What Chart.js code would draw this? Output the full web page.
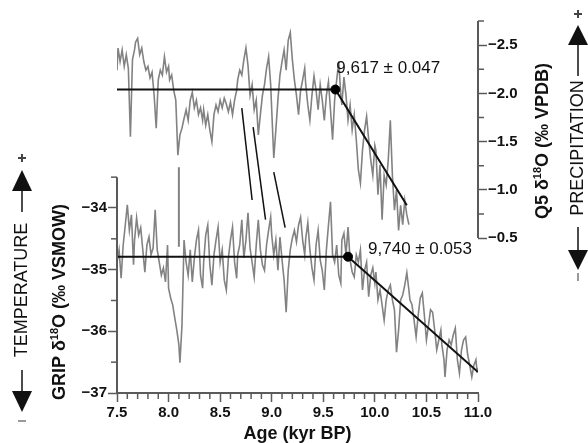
<!DOCTYPE html>
<html>
<head>
<meta charset="utf-8">
<script src="https://cdn.jsdelivr.net/npm/chart.js@4.4.0/dist/chart.umd.min.js"></script>
<style>
  html, body { margin: 0; padding: 0; background: #fff; }
  canvas { display: block; }
</style>
</head>
<body>
<canvas id="chart" width="588" height="443"></canvas>
<script>
// Q5 stalagmite record (right axis, reversed)
const q5Age = [7.50,7.51,7.53,7.55,7.57,7.59,7.61,7.63,7.65,7.67,
  7.68,7.70,7.72,7.74,7.76,7.78,7.80,7.82,7.84,7.86,
  7.88,7.90,7.92,7.94,7.96,7.98,8.00,8.01,8.03,8.05,
  8.07,8.09,8.11,8.13,8.15,8.17,8.19,8.21,8.23,8.25,
  8.27,8.29,8.31,8.33,8.34,8.36,8.38,8.40,8.42,8.44,
  8.46,8.48,8.50,8.52,8.54,8.56,8.58,8.60,8.62,8.64,
  8.66,8.67,8.69,8.71,8.73,8.75,8.77,8.79,8.81,8.83,
  8.85,8.87,8.89,8.91,8.93,8.95,8.97,8.99,9.00,9.02,
  9.04,9.06,9.08,9.10,9.12,9.14,9.16,9.18,9.20,9.22,
  9.24,9.26,9.28,9.30,9.32,9.33,9.35,9.37,9.39,9.41,
  9.43,9.45,9.47,9.49,9.51,9.53,9.55,9.57,9.59,9.61,
  9.63,9.65,9.67,9.68,9.70,9.72,9.74,9.76,9.78,9.80,
  9.82,9.84,9.86,9.88,9.90,9.92,9.94,9.96,9.98,10.00,
  10.01,10.03,10.05,10.07,10.09,10.11,10.13,10.15,10.17,10.19,
  10.21,10.23,10.25,10.27,10.29,10.31,10.33];
const q5D18O = [-2.24,-2.47,-2.33,-2.45,-2.28,-2.40,-2.26,-1.55,-2.35,-2.45,
  -2.53,-2.57,-2.40,-2.47,-2.33,-2.24,-2.28,-2.16,-2.22,-1.98,
  -1.64,-2.14,-2.24,-2.19,-2.38,-2.22,-2.28,-2.14,-2.19,-2.03,
  -1.93,-1.36,-1.57,-1.64,-1.74,-1.83,-1.72,-1.93,-2.01,-1.85,
  -1.93,-1.78,-1.85,-1.72,-1.83,-1.67,-1.78,-1.62,-1.50,-1.78,
  -1.88,-1.81,-1.93,-1.85,-1.95,-1.89,-1.81,-1.91,-1.78,-1.93,
  -2.03,-2.14,-2.24,-2.19,-2.35,-2.47,-2.29,-1.98,-2.09,-1.83,
  -1.93,-1.57,-1.78,-1.98,-2.09,-2.26,-2.38,-2.09,-1.83,-1.33,
  -1.62,-1.93,-2.19,-2.33,-2.45,-2.24,-2.55,-2.63,-2.35,-2.14,
  -1.98,-1.78,-2.03,-2.14,-2.26,-2.09,-1.88,-1.72,-1.98,-2.18,
  -2.03,-1.83,-2.09,-1.93,-1.72,-1.98,-2.12,-1.83,-1.52,-1.93,
  -2.14,-2.33,-1.98,-1.88,-2.17,-1.98,-1.72,-1.88,-1.62,-1.78,
  -1.52,-1.21,-1.07,-1.41,-1.62,-1.76,-1.52,-1.31,-1.15,-1.46,
  -1.41,-0.95,-1.26,-0.69,-1.15,-1.05,-1.31,-1.72,-1.15,-0.79,
  -1.00,-0.58,-0.84,-0.64,-0.89,-0.74,-0.64];

// GRIP ice core record (left axis)
const gripAge = [7.50,7.52,7.54,7.56,7.58,7.60,7.62,7.64,7.66,7.67,
  7.69,7.71,7.73,7.75,7.77,7.79,7.81,7.83,7.85,7.87,
  7.89,7.91,7.93,7.95,7.97,7.99,8.00,8.02,8.04,8.06,
  8.08,8.10,8.11,
  8.13,8.15,8.17,8.19,8.21,8.23,8.25,8.27,8.29,8.31,
  8.33,8.34,8.36,8.38,8.40,8.42,8.44,8.46,8.48,8.50,
  8.52,8.54,8.56,8.58,8.60,8.62,8.64,8.66,8.67,8.69,
  8.71,8.73,8.75,8.77,8.79,8.81,8.83,8.85,8.87,8.89,
  8.91,8.93,8.95,8.97,8.99,9.00,9.02,9.04,9.06,9.08,
  9.10,9.12,9.14,9.16,9.18,9.20,9.22,9.24,9.26,9.28,
  9.30,9.32,9.33,9.35,9.37,9.39,9.41,9.43,9.45,9.47,
  9.49,9.51,9.53,9.55,9.57,9.59,9.61,9.63,9.65,9.67,
  9.68,9.70,9.72,9.74,9.76,9.78,9.80,9.82,9.84,9.86,
  9.88,9.90,9.92,9.94,9.96,9.98,10.00,10.01,10.03,10.05,
  10.07,10.09,10.11,10.13,10.15,10.17,10.19,10.21,10.23,10.25,
  10.27,10.29,10.31,10.33,10.34,10.36,10.38,10.40,10.42,10.44,
  10.46,10.48,10.50,10.52,10.54,10.56,10.58,10.60,10.62,10.64,
  10.65,10.67,10.68,
  10.70,10.72,10.74,10.76,10.78,10.80,10.82,10.84,10.86,10.88,
  10.90,10.92,10.94,10.96,10.98,10.99,11.00];
const gripD18O = [-34.88,-34.68,-35.14,-34.60,-34.28,-33.95,-34.36,-34.11,-34.92,-34.52,
  -34.16,-34.44,-34.32,-34.68,-35.04,-34.60,-34.47,-34.76,-34.65,-34.03,
  -34.68,-34.88,-35.09,-34.97,-35.20,-34.60,-35.30,-35.46,-35.57,-35.78,
  -35.98,-36.22,-36.51,
  -35.90,-34.52,-34.88,-35.09,-34.68,-35.20,-34.81,-34.52,-34.36,-35.09,
  -35.30,-34.88,-34.44,-34.28,-34.92,-35.25,-34.76,-34.52,-34.31,-34.88,
  -34.68,-35.17,-35.33,-34.81,-34.52,-34.31,-34.88,-35.14,-34.76,-34.60,
  -34.19,-34.81,-34.52,-34.08,-34.65,-34.88,-35.12,-34.60,-34.19,-34.68,
  -34.92,-35.01,-34.60,-34.36,-34.15,-34.44,-34.76,-34.52,-35.01,-34.47,
  -34.84,-35.17,-35.69,-35.01,-34.68,-34.49,-34.36,-34.55,-34.28,-34.15,
  -34.52,-34.76,-34.49,-34.24,-34.68,-34.97,-35.17,-34.60,-34.36,-34.84,
  -35.01,-35.33,-34.68,-34.28,-33.90,-34.76,-34.88,-34.60,-35.09,-35.22,
  -34.52,-34.41,-34.76,-34.31,-34.84,-35.04,-35.12,-34.76,-34.88,-34.68,
  -35.33,-35.01,-34.88,-35.44,-35.09,-34.97,-35.22,-35.04,-35.49,-35.33,
  -35.57,-35.82,-35.49,-35.33,-35.25,-35.49,-35.65,-36.34,-35.98,-35.49,
  -35.41,-35.25,-35.05,-35.33,-35.49,-35.57,-35.82,-36.09,-35.74,-35.46,
  -35.38,-35.74,-36.14,-35.90,-35.65,-35.69,-35.98,-36.30,-36.14,-35.98,
  -36.22,-36.46,-36.74,
  -36.30,-36.14,-36.22,-36.06,-35.95,-36.46,-36.68,-36.30,-36.14,-36.09,
  -36.38,-36.55,-36.74,-36.55,-36.46,-36.63,-36.59];

// break-point fits
const q5FitAge = [7.5, 9.617, 10.31];
const q5FitVal = [-2.04, -2.04, -0.84];
const gripFitAge = [7.5, 9.74, 11.0];
const gripFitVal = [-34.79, -34.79, -36.66];
const q5BreakLabel = '9,617 \u00b1 0.047';
const gripBreakLabel = '9,740 \u00b1 0.053';

// tie lines between the two records (GRIP axis units)
const tieFromAge = [8.71, 8.82, 9.02];
const tieFromVal = [-32.38, -32.69, -33.42];
const tieToAge = [8.81, 8.94, 9.13];
const tieToVal = [-33.87, -34.19, -34.32];
const grayTieAge = [8.10, 8.10];
const grayTieVal = [-33.34, -34.63];

// ticks
const ageTicks = [7.5, 8.0, 8.5, 9.0, 9.5, 10.0, 10.5, 11.0];
const gripTicks = [-37, -36, -35, -34];
const gripMinor = [-36.5, -35.5, -34.5, -33.5];
const q5Ticks = [-2.5, -2.0, -1.5, -1.0, -0.5];
const q5Minor = [-2.75, -2.25, -1.75, -1.25, -0.75];
const ageMinor = [];
for (let a = 75; a <= 110; a++) { if (a % 5 !== 0) ageMinor.push(a / 10); }

const FAMILY = '"Liberation Sans", Arial, sans-serif';
const AXIS = '#5a5a5a';
const SERIES = '#828282';

Chart.defaults.font.family = FAMILY;

function pts(xs, ys) { return xs.map((x, i) => ({ x: x, y: ys[i] })); }
function fixedTicks(values) { return scale => { scale.ticks = values.map(v => ({ value: v })); }; }
function fmt(v, d) { return (v < 0 ? '\u2212' : '') + Math.abs(v).toFixed(d); }

function line(ctx, x0, y0, x1, y1) {
	ctx.beginPath(); ctx.moveTo(x0, y0); ctx.lineTo(x1, y1); ctx.stroke();
}

function rich(ctx, parts, cx, cy, size, weight) {
	ctx.save();
	ctx.translate(cx, cy);
	ctx.rotate(-Math.PI / 2);
	ctx.textBaseline = 'middle';
	ctx.textAlign = 'left';
	const fontOf = p => weight + ' ' + (p.sup ? Math.round(size * 0.62) : size) + 'px ' + FAMILY;
	let total = 0;
	parts.forEach(p => { ctx.font = fontOf(p); total += ctx.measureText(p.t).width; });
	let xx = -total / 2;
	parts.forEach(p => {
		ctx.font = fontOf(p);
		ctx.fillText(p.t, xx, p.sup ? -size * 0.3 : 0);
		xx += ctx.measureText(p.t).width;
	});
	ctx.restore();
}

function arrow(ctx, x, y0, tip, head, half) {
	const dir = Math.sign(tip - y0);
	line(ctx, x, y0, x, tip - dir * head);
	ctx.beginPath();
	ctx.moveTo(x, tip);
	ctx.lineTo(x - half, tip - dir * head);
	ctx.lineTo(x + half, tip - dir * head);
	ctx.closePath();
	ctx.fill();
}

const decor = {
	id: 'decor',
	afterDraw(chart) {
		const { ctx, chartArea: a } = chart;
		const { x, yL, yR } = chart.scales;
		ctx.save();
		ctx.strokeStyle = AXIS;
		ctx.lineWidth = 2;
		line(ctx, a.left, yL.getPixelForValue(-37) + 1, a.left, yL.getPixelForValue(-33.5));
		line(ctx, a.right, yR.getPixelForValue(-0.5), a.right, yR.getPixelForValue(-2.75));

		ctx.lineWidth = 1.5;
		ageMinor.forEach(v => { const p = x.getPixelForValue(v); line(ctx, p, a.bottom, p, a.bottom + 6); });
		gripMinor.forEach(v => { const p = yL.getPixelForValue(v); line(ctx, a.left - 6, p, a.left, p); });
		q5Minor.forEach(v => { const p = yR.getPixelForValue(v); line(ctx, a.right, p, a.right + 6, p); });

		ctx.fillStyle = '#111';
		ctx.textBaseline = 'middle';
		ctx.textAlign = 'left';
		ctx.font = '17px ' + FAMILY;
		ctx.fillText(q5BreakLabel, x.getPixelForValue(q5FitAge[1]) + 1, yR.getPixelForValue(q5FitVal[1]) - 21);
		ctx.fillText(gripBreakLabel, x.getPixelForValue(gripFitAge[1]) + 20, yL.getPixelForValue(gripFitVal[1]) - 7);

		ctx.textAlign = 'center';
		ctx.font = 'bold 18px ' + FAMILY;
		ctx.fillText('Age (kyr BP)', (a.left + a.right) / 2, 434);

		rich(ctx, [{ t: 'GRIP \u03b4' }, { t: '18', sup: true }, { t: 'O (\u2030 VSMOW)' }], 60, 302, 18, 'bold');
		rich(ctx, [{ t: 'Q5 \u03b4' }, { t: '18', sup: true }, { t: 'O (\u2030 VPDB)' }], 543, 141, 18, 'bold');
		rich(ctx, [{ t: 'TEMPERATURE' }], 22, 290, 18, 'normal');
		rich(ctx, [{ t: 'PRECIPITATION' }], 578, 148, 18, 'normal');

		ctx.strokeStyle = '#111';
		ctx.fillStyle = '#111';
		ctx.lineWidth = 1.5;
		arrow(ctx, 22, 212, 170, 21, 10);
		arrow(ctx, 22, 370, 412, 21, 10);
		arrow(ctx, 578, 76, 25, 20, 10);
		arrow(ctx, 578, 227, 270, 20, 10);

		ctx.lineWidth = 2;
		ctx.strokeStyle = '#444';
		line(ctx, 18, 158, 26, 158); line(ctx, 22, 154, 22, 162);
		line(ctx, 574, 14, 582, 14); line(ctx, 578, 10, 578, 18);
		ctx.strokeStyle = '#999';
		line(ctx, 18, 421, 26, 421);
		line(ctx, 578, 273, 578, 281);
		ctx.restore();
	}
};

const tieSets = tieFromAge.map((a, i) => ({
	data: pts([a, tieToAge[i]], [tieFromVal[i], tieToVal[i]]),
	yAxisID: 'yL', borderColor: '#111', borderWidth: 1.5, pointRadius: 0, order: 1
}));

new Chart(document.getElementById('chart'), {
	type: 'line',
	data: {
		datasets: [
			{ data: pts([q5FitAge[1]], [q5FitVal[1]]), yAxisID: 'yR', showLine: false,
			  pointRadius: 4.5, pointBackgroundColor: '#000', pointBorderColor: '#000', order: -1 },
			{ data: pts([gripFitAge[1]], [gripFitVal[1]]), yAxisID: 'yL', showLine: false,
			  pointRadius: 4.5, pointBackgroundColor: '#000', pointBorderColor: '#000', order: -1 },
			{ data: pts(q5FitAge, q5FitVal), yAxisID: 'yR', borderColor: '#111', borderWidth: 2, pointRadius: 0, order: 0 },
			{ data: pts(gripFitAge, gripFitVal), yAxisID: 'yL', borderColor: '#111', borderWidth: 2, pointRadius: 0, order: 0 },
			...tieSets,
			{ data: pts(grayTieAge, grayTieVal), yAxisID: 'yL', borderColor: SERIES, borderWidth: 2, pointRadius: 0, order: 2 },
			{ data: pts(q5Age, q5D18O), yAxisID: 'yR', borderColor: SERIES, borderWidth: 1.6, pointRadius: 0, order: 3 },
			{ data: pts(gripAge, gripD18O), yAxisID: 'yL', borderColor: SERIES, borderWidth: 1.6, pointRadius: 0, order: 3 }
		]
	},
	options: {
		responsive: false,
		animation: false,
		layout: { padding: { top: 21, left: 0, right: 0, bottom: 0 } },
		plugins: { legend: { display: false }, tooltip: { enabled: false } },
		elements: { line: { tension: 0 } },
		scales: {
			x: {
				type: 'linear', min: 7.5, max: 11.0,
				afterBuildTicks: fixedTicks(ageTicks),
				afterFit: s => { s.height = 50; },
				ticks: { callback: v => v.toFixed(1), autoSkip: false, maxRotation: 0, padding: 2,
				         color: '#111', font: { size: 15, weight: 'bold' } },
				grid: { drawOnChartArea: false, tickLength: 9, tickColor: AXIS, tickWidth: 1.5 },
				border: { display: true, color: AXIS, width: 2 }
			},
			yL: {
				type: 'linear', position: 'left', min: -37, max: -30.968,
				afterBuildTicks: fixedTicks(gripTicks),
				afterFit: s => { s.width = 117; },
				ticks: { callback: v => fmt(v, 0), autoSkip: false, padding: 1,
				         color: '#111', font: { size: 15, weight: 'bold' } },
				grid: { drawOnChartArea: false, tickLength: 9, tickColor: AXIS, tickWidth: 1.5 },
				border: { display: false }
			},
			yR: {
				type: 'linear', position: 'right', reverse: true, min: -2.75, max: 1.105,
				afterBuildTicks: fixedTicks(q5Ticks),
				afterFit: s => { s.width = 110; },
				ticks: { callback: v => fmt(v, 1), autoSkip: false, padding: 1,
				         color: '#111', font: { size: 15, weight: 'bold' } },
				grid: { drawOnChartArea: false, tickLength: 9, tickColor: AXIS, tickWidth: 1.5 },
				border: { display: false }
			}
		}
	},
	plugins: [decor]
});
</script>
</body>
</html>
